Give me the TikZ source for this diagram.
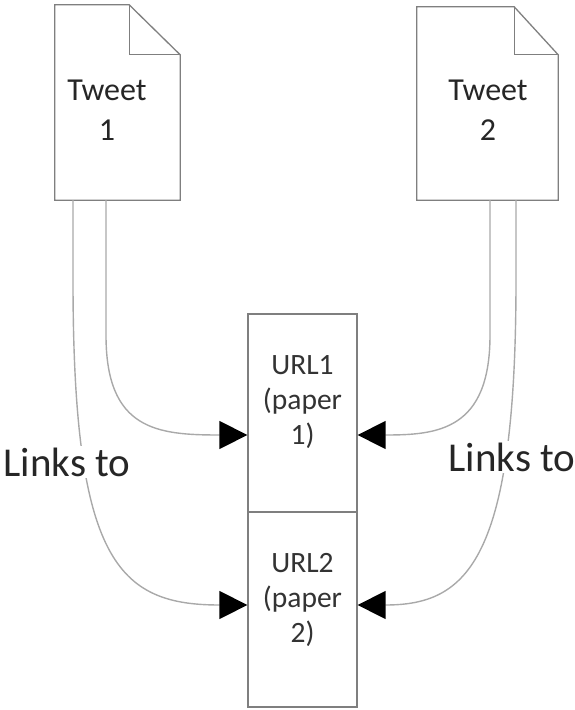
\documentclass[tikz,border=0pt]{standalone}
\usepackage{fontspec}
\setmainfont{Carlito}
\usetikzlibrary{arrows.meta,calc}
\definecolor{edgegray}{HTML}{7F7F7F}
\definecolor{linkgray}{HTML}{A9A9A9}
\tikzset{
  docbody/.style={draw=none,inner sep=0pt,minimum width=#1},
  docline/.style={draw=edgegray,line width=1.3pt,fill=white,line join=miter},
  doctext/.style={align=center,font=\fontsize{32}{40}\selectfont,text=black!85},
  urlbox/.style={draw=edgegray,line width=1.3pt,fill=white,inner sep=0pt,minimum width=109pt},
  urltext/.style={align=center,font=\fontsize{29.5}{35}\selectfont,text=black!80},
  linkline/.style={draw=linkgray,line width=1.4pt,-{Triangle[length=28pt,width=28pt,fill=black,color=black]}},
  linklabel/.style={fill=white,inner sep=2pt,font=\fontsize{41}{46}\selectfont,text=black!85}
}
\begin{document}
\begin{tikzpicture}[x=1pt,y=-1pt]
\useasboundingbox (0,0) rectangle (575,710);

% tweet documents
\node[docbody=125pt,minimum height=195pt] (t1) at (117.5,102.5) {};
\draw[docline] (t1.south west) |- ($(t1.north east)+(-51,0)$) -- ($(t1.north east)+(0,50)$) -- (t1.south east) -- cycle;
\draw[docline,fill=none] ($(t1.north east)+(-51,0)$) -- ++(0,50) -- ($(t1.north east)+(0,50)$);
\node[doctext] (t1txt) at (107,110) {Tweet\\1};

\node[docbody=141pt,minimum height=193pt] (t2) at (487.5,103.5) {};
\draw[docline] (t2.south west) |- ($(t2.north east)+(-44,0)$) -- ($(t2.north east)+(0,48)$) -- (t2.south east) -- cycle;
\draw[docline,fill=none] ($(t2.north east)+(-44,0)$) -- ++(0,48) -- ($(t2.north east)+(0,48)$);
\node[doctext] (t2txt) at (488,110) {Tweet\\2};

% url boxes
\node[urlbox,minimum height=198pt] (u1) at (302.5,413) {};
\node[urlbox,minimum height=195pt] (u2) at (302.5,609.5) {};
\node[urltext] (u1txt) at (302.5,402) {URL1\\(paper\\1)};
\node[urltext] (u2txt) at (302.5,600) {URL2\\(paper\\2)};

% connection points
\coordinate (a1) at ($(t1.south)+(-11.5,0)$);
\coordinate (a2) at ($(t1.south)+(-44.5,0)$);
\coordinate (b1) at ($(t2.south)+(2.5,0)$);
\coordinate (b2) at ($(t2.south)+(28.5,0)$);
\coordinate (u1w) at ($(u1.west)+(0,22)$);
\coordinate (u1e) at ($(u1.east)+(0,22)$);
\coordinate (u2w) at ($(u2.west)+(0,-4.5)$);
\coordinate (u2e) at ($(u2.east)+(0,-4.5)$);

% links from tweets to urls
\draw[linkline] (a1) -- ++(0,135) .. controls ++(0,95) and ($(u1w)+(-90,0)$) .. (u1w);
\draw[linkline] (a2) -- ++(0,80) .. controls ++(0,280) and ($(u2w)+(-130,0)$) .. (u2w);
\draw[linkline] (b1) -- ++(0,135) .. controls ++(0,95) and ($(u1e)+(80,0)$) .. (u1e);
\draw[linkline] (b2) -- ++(0,80) .. controls ++(0,280) and ($(u2e)+(110,0)$) .. (u2e);

\node[linklabel] (l1) at (67,462) {Links to};
\node[linklabel] (l2) at (512,457) {Links to};
\end{tikzpicture}
\end{document}
